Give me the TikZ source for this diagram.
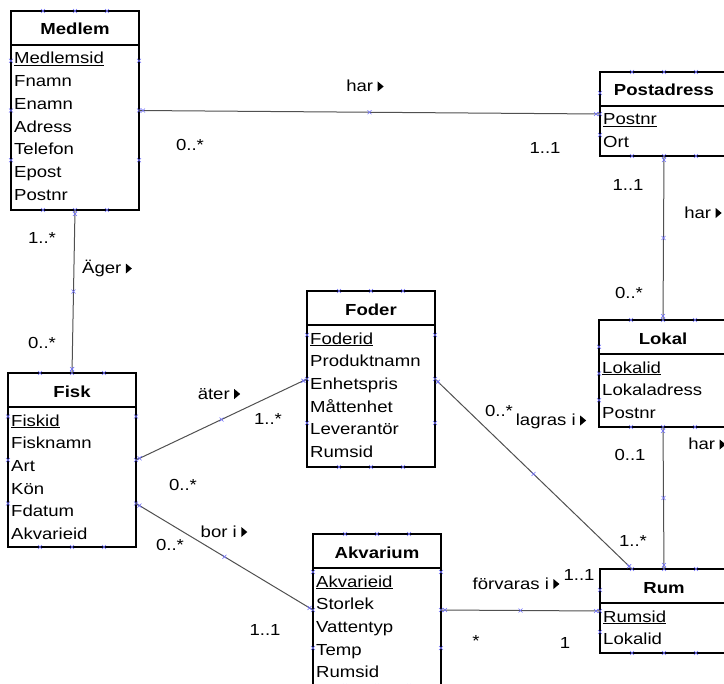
\documentclass[tikz,border=0pt]{standalone}
\usepackage{fontspec}
\setmainfont{Liberation Sans}[FakeStretch=1.16]
\usetikzlibrary{calc}
\definecolor{xcol}{RGB}{110,110,250}
\definecolor{conncol}{RGB}{80,80,80}
\newcommand\tri{\hspace{4.5bp}\tikz[baseline=0pt]\fill[black] (0bp,0bp)--(0bp,10bp)--(6bp,5bp)--cycle;}
\tikzset{
 ent/.style={draw=black, line width=1.4bp, minimum width=128bp, inner sep=0pt, outer sep=0pt},
 hdr/.style={draw=black, line width=1.4bp},
 etitle/.style={font=\fontsize{16bp}{19bp}\selectfont\bfseries, anchor=base, inner sep=0pt},
 attr/.style={font=\fontsize{16bp}{19bp}\selectfont, anchor=base west, inner sep=0pt},
 lab/.style={font=\fontsize{16bp}{19bp}\selectfont, anchor=base, inner sep=0pt},
 conn/.style={draw=conncol, line width=1bp},
 xm/.pic={\draw[xcol, line width=0.6bp] (-2,-2)--(2,2) (-2,2)--(2,-2);},
}
\newcommand\boxmarks[1]{%
 \foreach \f in {0.25,0.5,0.75}{%
  \pic at ($(#1.north west)!\f!(#1.north east)$) {xm};
  \pic at ($(#1.south west)!\f!(#1.south east)$) {xm};
  \pic at ($(#1.north west)!\f!(#1.south west)$) {xm};
  \pic at ($(#1.north east)!\f!(#1.south east)$) {xm};
 }}
\newcommand\entity[7]{%
 \node[ent, minimum height=#4bp, anchor=north west] (#1) at (#2,#3) {};
 \draw[hdr] ($(#1.north west)+(0,34)$) -- ($(#1.north east)+(0,34)$);
 \node[etitle] (#1-t) at ($(#1.north)+(0,24)$) {#5};
 \node[attr] (#1-0) at ($(#1.north west)+(3,53)$) {\underline{#6}};
 \foreach \a [count=\i] in {#7} {
   \node[attr] (#1-\i) at ($(#1.north west)+(3,{53+\i*22.7})$) {\a};
 }
 \boxmarks{#1}
}
\newcommand\conn[2]{%
 \draw[conn] (#1) -- (#2);
 \pic at ($(#1)!0.5!(#2)$) {xm};
 \pic at ($(#1)!4bp!(#2)$) {xm};
 \pic at ($(#2)!4bp!(#1)$) {xm};
}
\begin{document}
\begin{tikzpicture}[x=1bp,y=-1bp]
\useasboundingbox (0,0) rectangle (724,684);
\clip (0,0) rectangle (724,684);

\entity{medlem}{11}{11}{199}{Medlem}{Medlemsid}{Fnamn,Enamn,Adress,Telefon,Epost,Postnr}
\entity{postadress}{600}{72}{84}{Postadress}{Postnr}{Ort}
\entity{foder}{307}{291}{176}{Foder}{Foderid}{Produktnamn,Enhetspris,Måttenhet,Leverantör,Rumsid}
\entity{fisk}{8}{373}{174}{Fisk}{Fiskid}{Fisknamn,Art,Kön,Fdatum,Akvarieid}
\entity{akvarium}{313}{534}{152}{Akvarium}{Akvarieid}{Storlek,Vattentyp,Temp,Rumsid}
\entity{lokal}{599}{320}{107}{Lokal}{Lokalid}{Lokaladress,Postnr}
\entity{rum}{600}{569}{84}{Rum}{Rumsid}{Lokalid}

\coordinate (fiskB) at ($(fisk.north east)!0.75!(fisk.south east)$);
\coordinate (rumQ) at ($(rum.north west)!0.25!(rum.north east)$);

\conn{medlem.east}{postadress.west}
\conn{postadress.south}{lokal.north}
\conn{medlem.south}{fisk.north}
\conn{fisk.east}{foder.west}
\conn{fiskB}{akvarium.west}
\conn{foder.east}{rumQ}
\conn{lokal.south}{rum.north}
\conn{akvarium.east}{rum.west}

% labels
\node[lab] (l1) at (365,91.5) {har\tri};
\node[lab] (m1a) at (190,150.5) {0..*};
\node[lab] (m1b) at (545,153.5) {1..1};
\node[lab] (m2a) at (628,190) {1..1};
\node[lab] (l2) at (703,218) {har\tri};
\node[lab] (m2b) at (629,298) {0..*};
\node[lab] (m3a) at (42,243.5) {1..*};
\node[lab] (l3) at (107,273.5) {Äger\tri};
\node[lab] (m3b) at (42,348.5) {0..*};
\node[lab] (l4) at (219,399) {äter\tri};
\node[lab] (m4b) at (268,424) {1..*};
\node[lab] (m4a) at (183,490) {0..*};
\node[lab] (l5) at (224,537) {bor i\tri};
\node[lab] (m5a) at (170,550) {0..*};
\node[lab] (m5b) at (265,635.5) {1..1};
\node[lab] (l6) at (551,425.5) {lagras i\tri};
\node[lab] (m6a) at (499,416.5) {0..*};
\node[lab] (m7a) at (630,460.5) {0..1};
\node[lab] (l7) at (707,449.5) {har\tri};
\node[lab] (m7b) at (633,546.5) {1..*};
\node[lab] (l8) at (516,589) {förvaras i\tri};
\node[lab] (m6b) at (579,580) {1..1};
\node[lab] (m8a) at (476,646) {*};
\node[lab] (m8b) at (565,648) {1};
\end{tikzpicture}
\end{document}
